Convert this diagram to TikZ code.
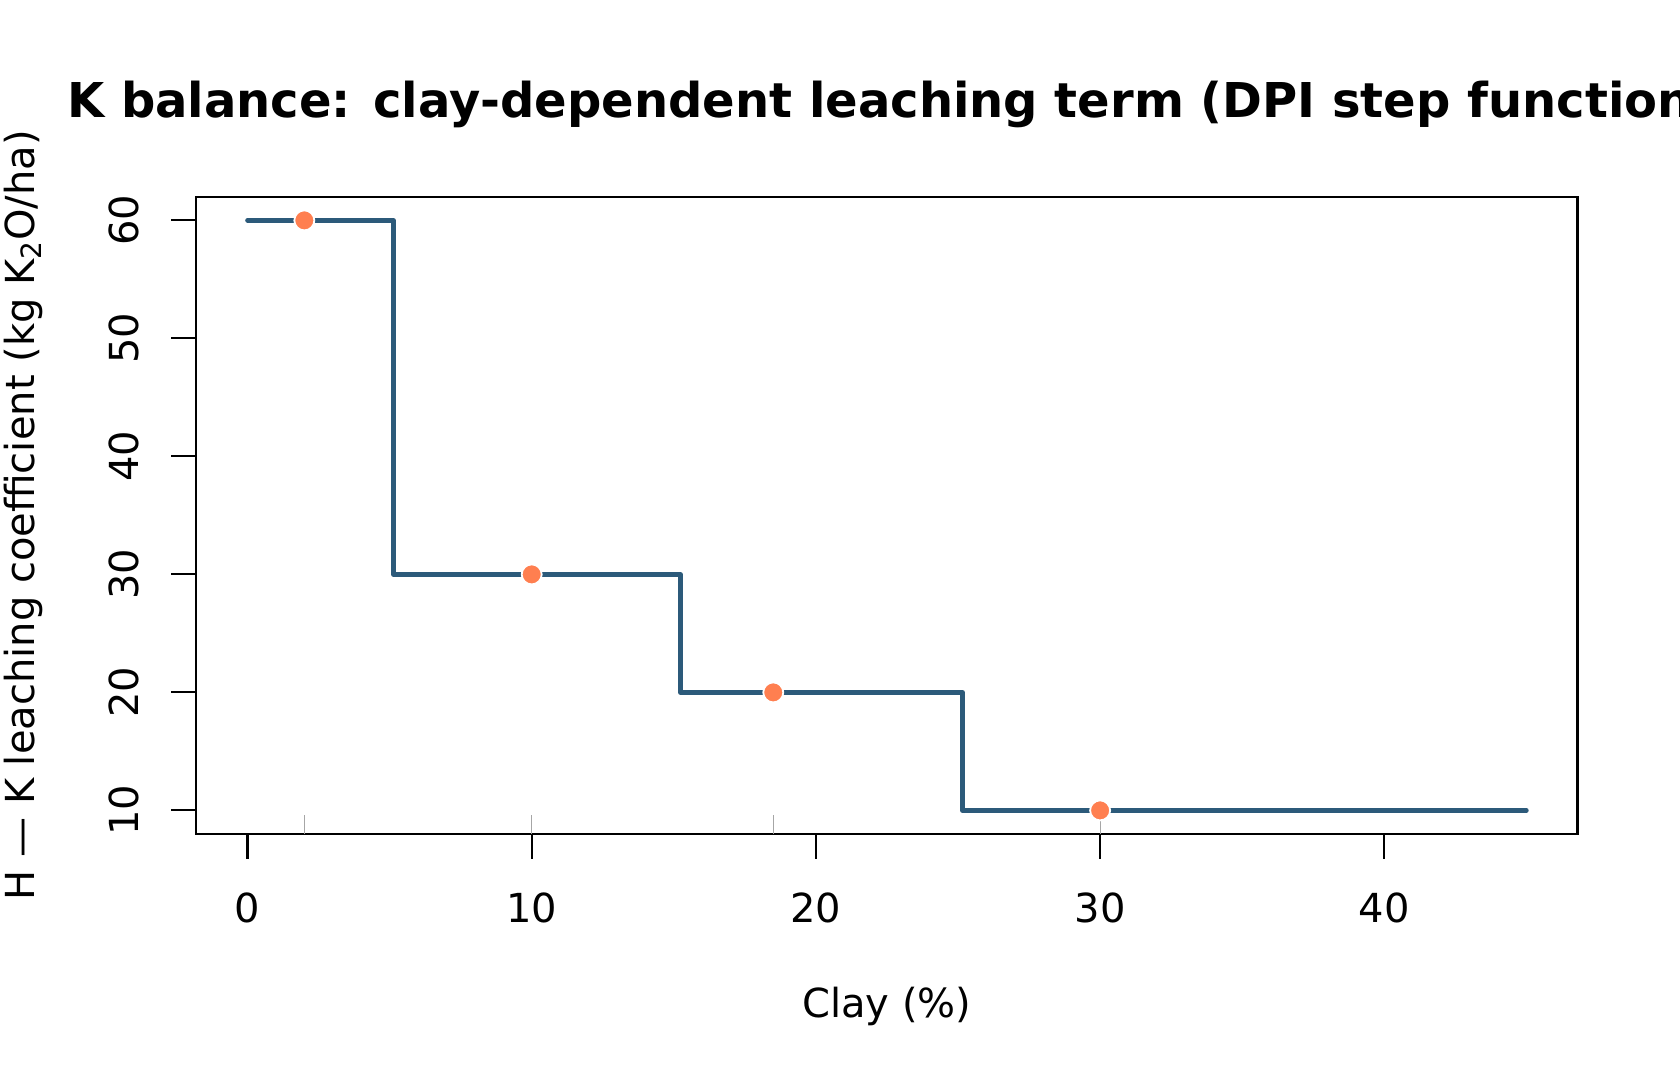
\documentclass[tikz,border=0pt]{standalone}
\usepackage{fontspec}
\setmainfont{DejaVu Sans}
\usetikzlibrary{positioning,calc}
\definecolor{stepblue}{HTML}{2C5A7A}
\definecolor{coralpt}{HTML}{FF7F50}

\begin{document}
\begin{tikzpicture}[x=14.21pt,y=5.9pt,
    axislabel/.style={font=\fontsize{20pt}{24pt}\selectfont, inner sep=0pt},
    axisline/.style={line width=1.1pt},
    steplevel/.style={stepblue, line width=2.3pt, line cap=round, line join=round},
    obspoint/.style={circle, fill=coralpt, draw=white, line width=0.9pt, minimum size=10pt, inner sep=0pt},
    rugtick/.style={black!35, line width=0.6pt}]
    \useasboundingbox (-123.75pt,-75.8pt) rectangle ++(840pt,540pt);

    % Frame
    \draw[axisline] (-1.8,8) coordinate (SW) rectangle (46.8,62) coordinate (NE);

    % Axes
    \foreach \xv in {0,10,20,30,40} {
        \draw[axisline] (\xv,8) -- ++(0pt,-12.5pt);
        \node[axislabel] (xt\xv) at (\xv,1.77) {\xv};
    }
    \foreach \yv in {10,20,30,40,50,60} {
        \draw[axisline] (-1.8,\yv) -- ++(-12.5pt,0pt);
        \node[axislabel, rotate=90] (yt\yv) at (-4.36,\yv) {\yv};
    }

    % Rug of the sample clays
    \foreach \cv in {2,10,18.5,30}
        \draw[rugtick] (\cv,8) -- ++(0pt,9.5pt);

    % Step function
    \draw[steplevel] (0,60) -| (5.13,30) -| (15.23,20) -| (25.16,10) -- (45,10) coordinate (End);

    % Sample points
    \node[obspoint] (P1) at (2,60) {};
    \node[obspoint] (P2) at (10,30) {};
    \node[obspoint] (P3) at (18.5,20) {};
    \node[obspoint] (P4) at (30,10) {};

    % Labels
    \node[font=\fontsize{24pt}{28pt}\selectfont\bfseries, anchor=base west, inner sep=0pt] (Title) at (-6.36,68.7) {K balance: clay-dependent leaching term (DPI step function)};
    \node[axislabel, anchor=base] (XLab) at (22.5,-7.59) {Clay (\%)};
    \node[axislabel, rotate=90, anchor=base] (YLab) at (-7.48,35) {H — K leaching coefficient (kg K\textsubscript{2}O/ha)};
\end{tikzpicture}
\end{document}
